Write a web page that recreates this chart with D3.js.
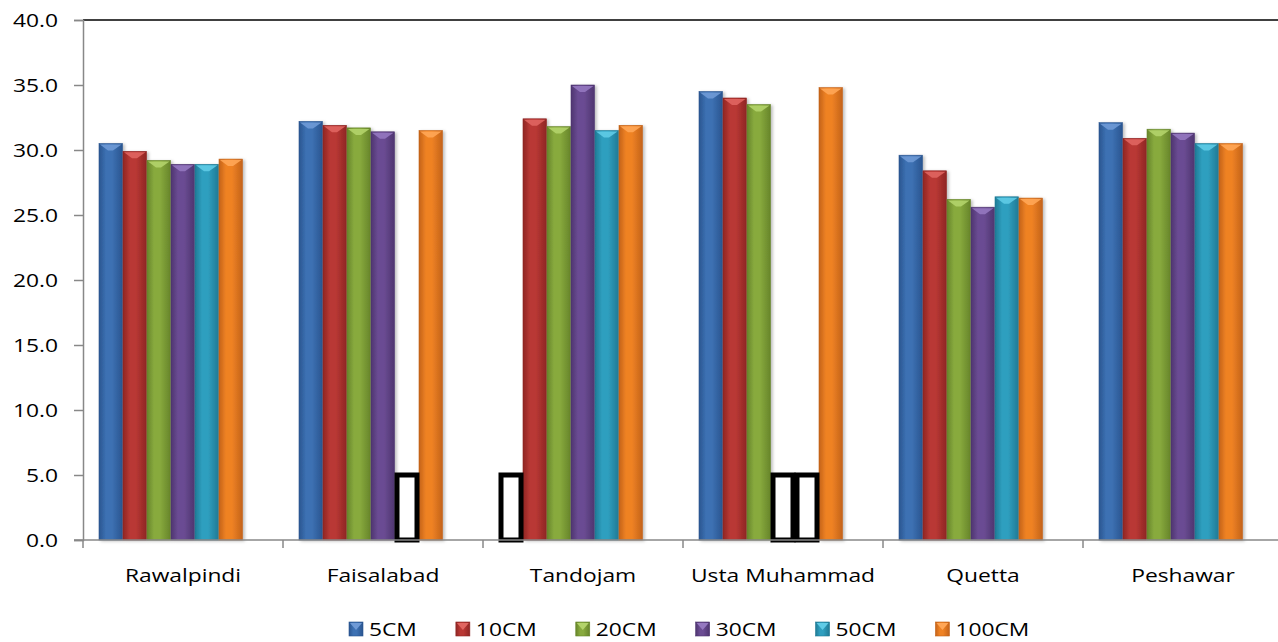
<!DOCTYPE html>
<html lang="en">
  <head>
    <meta charset="utf-8">
    <script type="text/javascript" src="https://cdn.jsdelivr.net/npm/d3@7/dist/d3.min.js"></script>
    <style>
      body { margin: 0; background: #fff; }
      svg text { font-family: 'Open Sans', 'Noto Sans', sans-serif; fill: #000; }
    </style>
  </head>
  <body>
    <svg class="chart"></svg>
  </body>
  <script type="text/javascript">
    // stations and soil depths
    var stations = ['Rawalpindi', 'Faisalabad', 'Tandojam', 'Usta Muhammad', 'Quetta', 'Peshawar'];
    var depths = ['5CM', '10CM', '20CM', '30CM', '50CM', '100CM'];

    // values per depth, one per station (null = no data, drawn as empty box)
    var cm5   = [30.5, 32.2, null, 34.5, 29.6, 32.1];
    var cm10  = [29.9, 31.9, 32.4, 34.0, 28.4, 30.9];
    var cm20  = [29.2, 31.7, 31.8, 33.5, 26.2, 31.6];
    var cm30  = [28.9, 31.4, 35.0, null, 25.6, 31.3];
    var cm50  = [28.9, null, 31.5, null, 26.4, 30.5];
    var cm100 = [29.3, 31.5, 31.9, 34.8, 26.3, 30.5];
    var seriesValues = [cm5, cm10, cm20, cm30, cm50, cm100];
    var placeholder = 5.0;

    var yTicks = [0, 5, 10, 15, 20, 25, 30, 35, 40];

    var colors = ['#3d71b3', '#b93834', '#88aa3e', '#6b4c93', '#2f9fbf', '#ef8224'];
    var dark   = ['#2a5590', '#8f2624', '#67852a', '#4e3570', '#1f7a95', '#c4631a'];
    var light  = ['#6f9ad6', '#e06560', '#b3d36a', '#9578c0', '#5fcbe6', '#ffa656'];

    // the original text is a little wider than it is tall
    var stretch = 1.2;
    var fontSize = 19;

    var screenWidth = 1278, screenHeight = 642;
    var svg = d3.select('.chart')
                .attr('width', screenWidth)
                .attr('height', screenHeight);

    var margins = { top: 20, bottom: 102, left: 83, right: -5 };
    var width = screenWidth - margins.left - margins.right;
    var height = screenHeight - margins.top - margins.bottom;

    var x0 = d3.scaleBand().domain(stations).range([0, width]);
    // 7 slots per group (the 7th is empty) plus a gap of 4/3 slot
    var slot = x0.bandwidth() / (7 + 4 / 3);
    var x1 = d3.scaleBand().domain(depths).range([slot * 2 / 3, slot * 2 / 3 + slot * 6]);
    var yScale = d3.scaleLinear().domain([0, 40]).range([height, 0]);

    var defs = svg.append('defs');
    depths.forEach(function(d, i) {
      var g = defs.append('linearGradient').attr('id', 'grad' + i)
                  .attr('x1', '0%').attr('x2', '100%').attr('y1', '0%').attr('y2', '0%');
      g.append('stop').attr('offset', '0%').attr('stop-color', dark[i]);
      g.append('stop').attr('offset', '30%').attr('stop-color', colors[i]);
      g.append('stop').attr('offset', '55%').attr('stop-color', colors[i]);
      g.append('stop').attr('offset', '100%').attr('stop-color', dark[i]);
    });
    var shadow = defs.append('filter').attr('id', 'shadow')
                     .attr('x', '-20%').attr('y', '-5%').attr('width', '150%').attr('height', '110%');
    shadow.append('feDropShadow').attr('dx', 2).attr('dy', 1).attr('stdDeviation', 1.5)
          .attr('flood-color', '#000').attr('flood-opacity', 0.25);

    var plot = svg.append('g').classed('plot', true)
                  .attr('transform', 'translate(' + margins.left + ',' + margins.top + ')');

    // top border of plot area
    plot.append('line')
        .attr('x1', 0).attr('x2', width)
        .attr('y1', 0).attr('y2', 0)
        .attr('stroke', '#000').attr('stroke-width', 1.5);

    var rows = [];
    stations.forEach(function(s, si) {
      depths.forEach(function(d, di) {
        rows.push({ station: s, depth: d, di: di, value: seriesValues[di][si] });
      });
    });

    var bars = plot.selectAll('g.bar')
                   .data(rows.filter(function(r) { return r.value != null; }))
                   .enter()
                   .append('g').classed('bar', true)
                   .attr('transform', function(r) {
                     return 'translate(' + (x0(r.station) + x1(r.depth)) + ',0)';
                   });
    var bw = x1.bandwidth();
    bars.append('rect')
        .attr('x', 0)
        .attr('y', function(r) { return yScale(r.value); })
        .attr('width', bw - 0.5)
        .attr('height', function(r) { return height - yScale(r.value); })
        .attr('fill', function(r) { return 'url(#grad' + r.di + ')'; })
        .attr('stroke', function(r) { return dark[r.di]; })
        .attr('stroke-width', 0.6)
        .attr('filter', 'url(#shadow)');
    // bevel on the bar tops
    bars.append('path')
        .attr('d', function(r) {
          var t = yScale(r.value);
          return 'M1,' + (t + 1) + 'L' + (bw - 1.5) + ',' + (t + 1) +
                 'L' + (bw / 2 + 2) + ',' + (t + 7) + 'L' + (bw / 2 - 3) + ',' + (t + 7) + 'Z';
        })
        .attr('fill', function(r) { return light[r.di]; })
        .attr('opacity', 0.9);

    // missing values shown as empty boxes
    plot.selectAll('rect.missing')
        .data(rows.filter(function(r) { return r.value == null; }))
        .enter()
        .append('rect').classed('missing', true)
        .attr('x', function(r) { return x0(r.station) + x1(r.depth) + 2; })
        .attr('y', yScale(placeholder))
        .attr('width', bw - 4)
        .attr('height', height - yScale(placeholder))
        .attr('fill', '#fff')
        .attr('stroke', '#000')
        .attr('stroke-width', 5);

    var yAxis = d3.axisLeft(yScale).tickValues(yTicks).tickSize(9)
                  .tickFormat(d3.format('.1f'));
    var yg = plot.append('g').classed('yAxis', true).call(yAxis);
    yg.selectAll('text').attr('dy', '0.35em')
      .attr('x', -25 / stretch);

    var xAxis = d3.axisBottom(x0).tickSize(0).tickPadding(29);
    var xg = plot.append('g').classed('xAxis', true)
                 .attr('transform', 'translate(0,' + height + ')')
                 .call(xAxis);
    xg.select('.domain').remove();
    xg.append('line').attr('x1', -9).attr('x2', width).attr('y1', 0).attr('y2', 0)
      .attr('stroke', '#888').attr('stroke-width', 1.5);
    xg.selectAll('line.gtick')
      .data(stations.concat(['end']))
      .enter().append('line').classed('gtick', true)
      .attr('x1', function(d, i) { return i * x0.step(); })
      .attr('x2', function(d, i) { return i * x0.step(); })
      .attr('y1', 0).attr('y2', 8)
      .attr('stroke', '#888').attr('stroke-width', 1.5);

    [yg, xg].forEach(function(g) {
      g.selectAll('.domain, .tick line').attr('stroke', '#888').attr('stroke-width', 1.5);
      g.selectAll('text')
       .attr('font-size', fontSize)
       .attr('transform', 'scale(' + stretch + ',1)')
       .style('font-family', "'Open Sans', 'Noto Sans', sans-serif")
       .attr('fill', '#000');
    });

    // legend, laid out item after item like the original
    var legend = svg.append('g').classed('legend', true)
                    .attr('transform', 'translate(349,622)');
    var legendX = 0;
    depths.forEach(function(d, i) {
      var item = legend.append('g').attr('transform', 'translate(' + legendX + ',0)');
      item.append('rect')
          .attr('x', 0).attr('y', 0)
          .attr('width', 14).attr('height', 14)
          .attr('fill', 'url(#grad' + i + ')')
          .attr('stroke', dark[i])
          .attr('stroke-width', 0.6);
      item.append('path')
          .attr('d', 'M1,1L13,1L7,8Z')
          .attr('fill', light[i]);
      var t = item.append('text')
                  .attr('x', 20 / stretch).attr('y', 14)
                  .attr('font-size', fontSize)
                  .attr('transform', 'scale(' + stretch + ',1)')
                  .text(d);
      legendX += 20 + t.node().getComputedTextLength() * stretch + 39;
    });
  </script>
</html>
